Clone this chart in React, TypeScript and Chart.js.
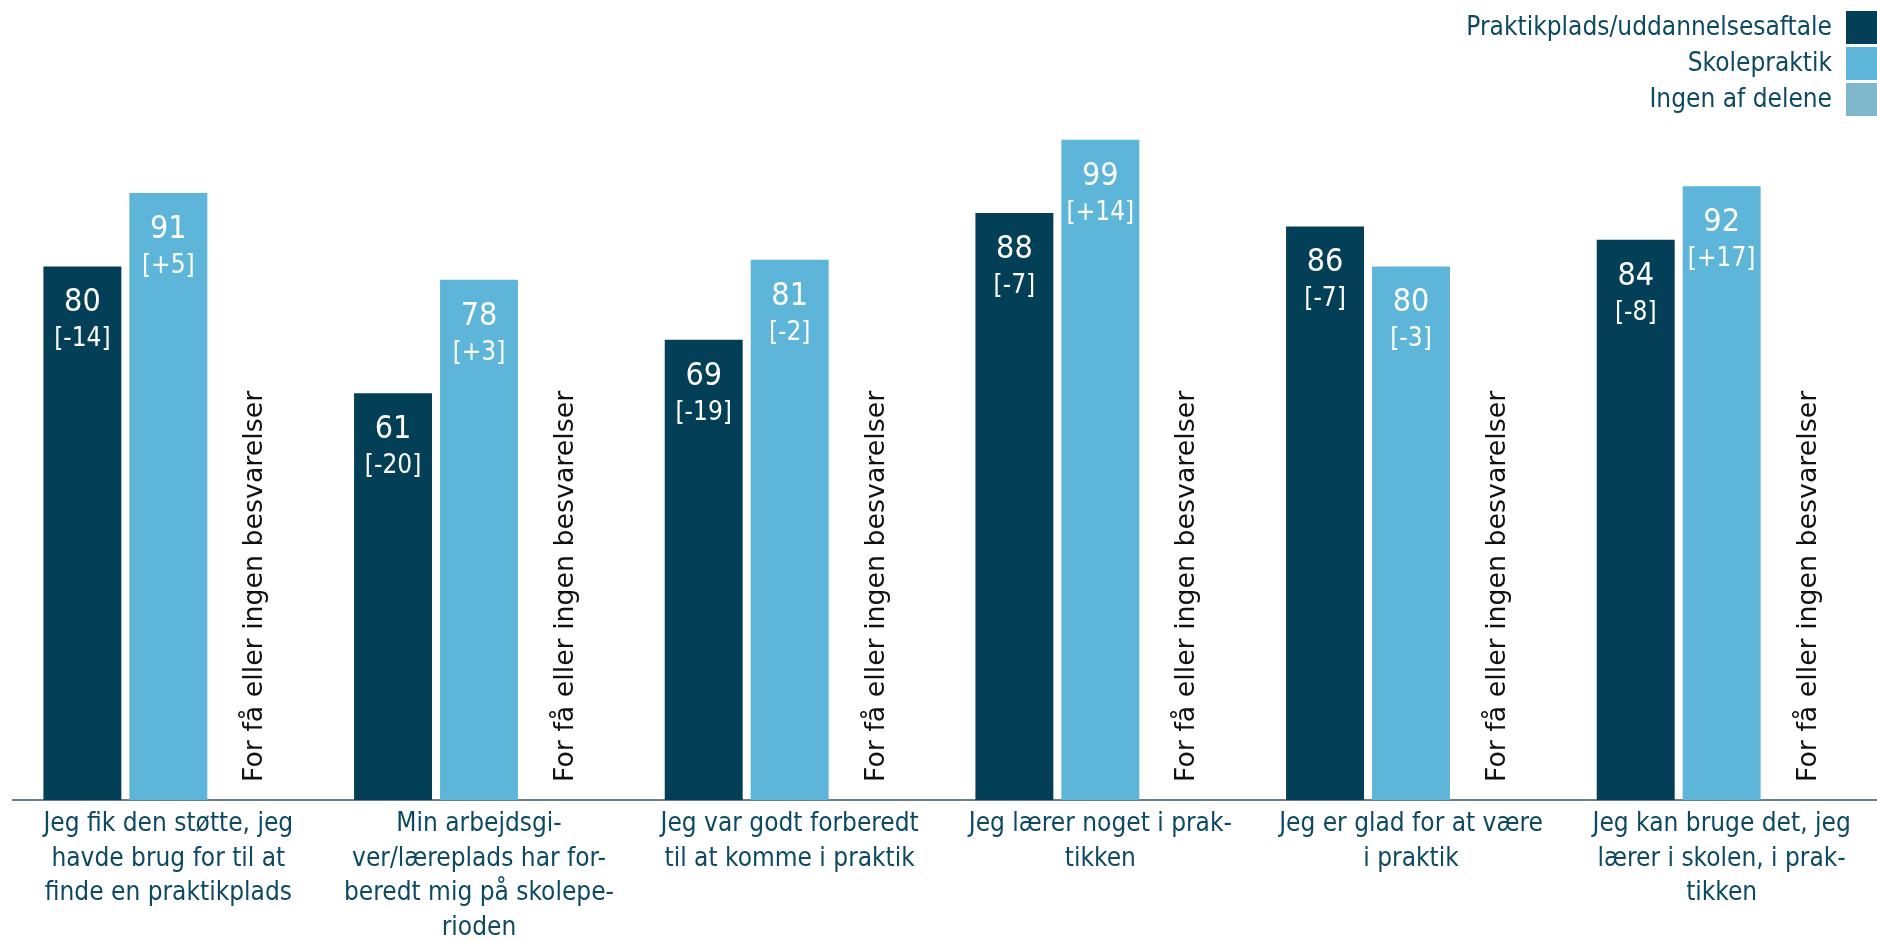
import React, { useEffect, useRef } from "react";
import { Chart, registerables } from "chart.js";

Chart.register(...registerables);

const categories: string[][] = [
  ["Jeg fik den støtte, jeg", "havde brug for til at", "finde en praktikplads"],
  ["Min arbejdsgi-", "ver/læreplads har for-", "beredt mig på skolepe-", "rioden"],
  ["Jeg var godt forberedt", "til at komme i praktik"],
  ["Jeg lærer noget i prak-", "tikken"],
  ["Jeg er glad for at være", "i praktik"],
  ["Jeg kan bruge det, jeg", "lærer i skolen, i prak-", "tikken"],
];

const seriesNames = ["Praktikplads/uddannelsesaftale", "Skolepraktik", "Ingen af delene"];

const praktikplads = [80, 61, 69, 88, 86, 84];
const praktikpladsDiff = ["[-14]", "[-20]", "[-19]", "[-7]", "[-7]", "[-8]"];
const skolepraktik = [91, 78, 81, 99, 80, 92];
const skolepraktikDiff = ["[+5]", "[+3]", "[-2]", "[+14]", "[-3]", "[+17]"];
const ingenAfDelene: (number | null)[] = [null, null, null, null, null, null];
const ingenNote = "For få eller ingen besvarelser";

const colors = ["#033f57", "#5eb5da", "#7fb7cd"];
const TEXT_DARK = "#0d4a62";
const FONT = '"DejaVu Sans Condensed", "DejaVu Sans", sans-serif';
const FONT_WIDE = '"DejaVu Sans", sans-serif';

const labelPlugin = {
  id: "barLabels",
  afterDatasetsDraw(chart: any) {
    const ctx = chart.ctx;
    const vals = [praktikplads, skolepraktik];
    const diffs = [praktikpladsDiff, skolepraktikDiff];
    ctx.save();
    ctx.fillStyle = "#ffffff";
    ctx.textAlign = "center";
    ctx.textBaseline = "alphabetic";
    [0, 1].forEach((di) => {
      const meta = chart.getDatasetMeta(di);
      meta.data.forEach((bar: any, i: number) => {
        const x = bar.x;
        const y = bar.y;
        ctx.font = `32px ${FONT}`;
        ctx.fillText(String(vals[di][i]), x, y + 45);
        ctx.font = `26px ${FONT}`;
        ctx.fillText(diffs[di][i], x, y + 80);
      });
    });
    const m0 = chart.getDatasetMeta(0);
    const m1 = chart.getDatasetMeta(1);
    const m2 = chart.getDatasetMeta(2);
    const bottom = chart.chartArea.bottom;
    ctx.fillStyle = "#111111";
    ctx.font = `26.8px ${FONT_WIDE}`;
    ctx.textAlign = "left";
    ctx.textBaseline = "middle";
    ingenAfDelene.forEach((v, i) => {
      if (v !== null) return;
      let x = m2.data[i] ? m2.data[i].x : NaN;
      if (!isFinite(x)) x = m1.data[i].x + (m1.data[i].x - m0.data[i].x);
      ctx.save();
      ctx.translate(x + 1, bottom - 18);
      ctx.rotate(-Math.PI / 2);
      ctx.fillText(ingenNote, 0, 0);
      ctx.restore();
    });
    ctx.restore();
  },
  afterDraw(chart: any) {
    const ctx = chart.ctx;
    const W = chart.width;
    ctx.save();
    ctx.font = `26px ${FONT}`;
    ctx.textAlign = "right";
    ctx.textBaseline = "middle";
    seriesNames.forEach((name, i) => {
      const top = 11 + i * 36;
      ctx.fillStyle = colors[i];
      ctx.fillRect(W - 31, top, 31, 33);
      ctx.fillStyle = TEXT_DARK;
      ctx.fillText(name, W - 45, top + 17);
    });
    ctx.restore();
  },
};

export default function App() {
  const ref = useRef<HTMLCanvasElement | null>(null);
  useEffect(() => {
    document.body.style.margin = "0";
    const canvas = ref.current!;
    const chart = new Chart(canvas, {
      type: "bar",
      data: {
        labels: categories,
        datasets: [
          { label: seriesNames[0], data: praktikplads, backgroundColor: colors[0] },
          { label: seriesNames[1], data: skolepraktik, backgroundColor: colors[1] },
          { label: seriesNames[2], data: ingenAfDelene as any, backgroundColor: colors[2] },
        ],
      },
      options: {
        responsive: false,
        animation: false,
        devicePixelRatio: 1,
        layout: { padding: { top: 133, left: 13, right: 0, bottom: 0 } },
        datasets: { bar: { categoryPercentage: 0.83, barPercentage: 0.907 } } as any,
        plugins: { legend: { display: false }, tooltip: { enabled: false }, title: { display: false } },
        scales: {
          x: {
            grid: { display: false, drawTicks: false },
            border: { display: true, color: "#6a7f90", width: 2 },
            ticks: {
              color: TEXT_DARK,
              font: { family: FONT, size: 26, lineHeight: 1.327 },
              padding: 7,
              maxRotation: 0,
              autoSkip: false,
            },
            afterFit: (scale: any) => {
              scale.height = 140;
            },
          },
          y: { display: false, min: 0, max: 100 },
        },
      },
      plugins: [labelPlugin],
    });
    return () => chart.destroy();
  }, []);
  return (
    <div style={{ width: 1877, height: 940 }}>
      <canvas ref={ref} width={1877} height={940} style={{ display: "block" }} />
    </div>
  );
}
